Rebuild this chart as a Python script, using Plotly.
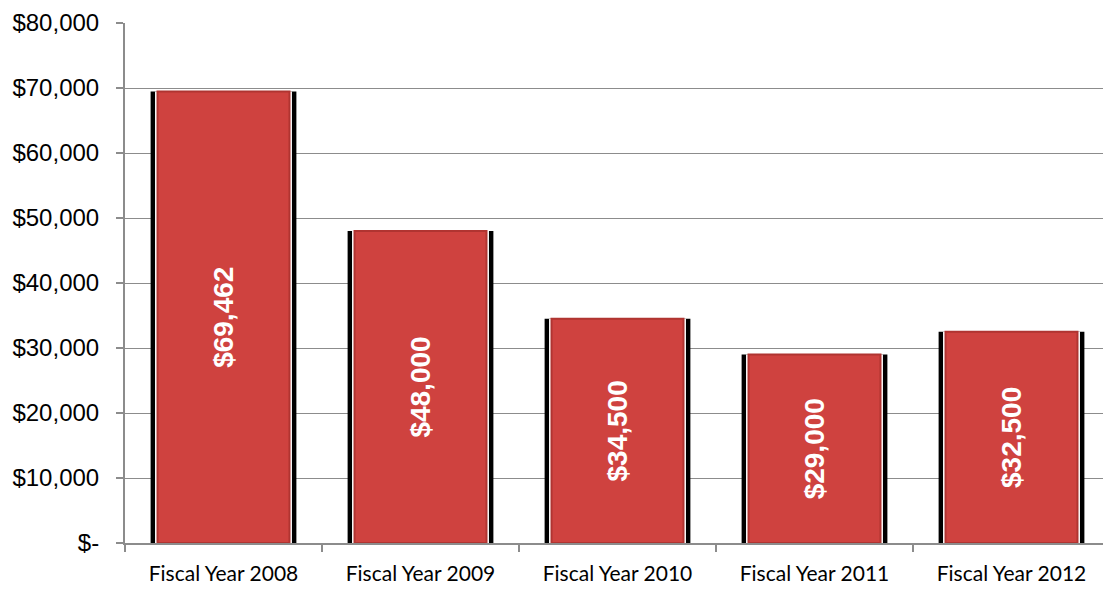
import plotly.graph_objects as go

categories = ["Fiscal Year 2008", "Fiscal Year 2009", "Fiscal Year 2010", "Fiscal Year 2011", "Fiscal Year 2012"]
values = [69462, 48000, 34500, 29000, 32500]
labels = ["$69,462", "$48,000", "$34,500", "$29,000", "$32,500"]
tick_vals = [0, 10000, 20000, 30000, 40000, 50000, 60000, 70000, 80000]
tick_text = ["$-", "$10,000", "$20,000", "$30,000", "$40,000", "$50,000", "$60,000", "$70,000", "$80,000"]

fig = go.Figure()
# shadow
fig.add_trace(go.Bar(x=categories, y=values, width=0.74, marker=dict(color="#000000", line=dict(width=0)),
                     hoverinfo="skip", showlegend=False))
# white gap
fig.add_trace(go.Bar(x=categories, y=values, width=0.695, marker=dict(color="#ffffff", line=dict(width=0)),
                     hoverinfo="skip", showlegend=False))
fig.add_trace(go.Bar(x=categories, y=values, width=0.67, text=labels, textposition="inside",
                     insidetextanchor="middle", textangle=-90,
                     textfont=dict(family="Liberation Sans, Arial", size=28, color="white", weight="bold"),
                     marker=dict(color="#cf423f", line=dict(color="#b03431", width=2)),
                     showlegend=False))

fig.update_layout(
    barmode="overlay",
    width=1103, height=585,
    margin=dict(l=117, r=1, t=15, b=50),
    plot_bgcolor="white", paper_bgcolor="white",
    xaxis=dict(showline=True, linecolor="#8c8c8c", linewidth=2, ticks="outside", tickson="boundaries",
               ticklen=7, tickcolor="#8c8c8c", tickwidth=2, ticklabelstandoff=11,
               tickfont=dict(family="Lato, Open Sans", size=21, color="black")),
    yaxis=dict(range=[0, 80000], tickvals=tick_vals, ticktext=tick_text, showgrid=True,
               gridcolor="#8c8c8c", gridwidth=1.3, showline=True, linecolor="#8c8c8c", linewidth=2,
               ticks="outside", ticklen=7, tickcolor="#8c8c8c", tickwidth=2, zeroline=False,
               ticklabelstandoff=12,
               tickfont=dict(family="Liberation Sans, Arial", size=24, color="black")),
)
fig.write_html("out.html")
